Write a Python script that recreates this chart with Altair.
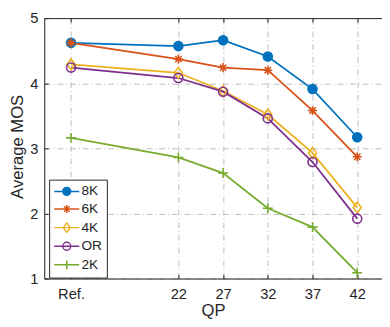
import altair as alt
import pandas as pd

# ---- data ----
qp_values = [10, 22, 27, 32, 37, 42]
qp_labels = ["Ref.", "22", "27", "32", "37", "42"]
series_names = ["8K", "6K", "4K", "OR", "2K"]
mos_8k = [4.62, 4.57, 4.66, 4.41, 3.91, 3.17]
mos_6k = [4.62, 4.37, 4.24, 4.20, 3.58, 2.87]
mos_4k = [4.29, 4.16, 3.88, 3.52, 2.93, 2.09]
mos_or = [4.24, 4.08, 3.87, 3.46, 2.79, 1.92]
mos_2k = [3.16, 2.86, 2.62, 2.08, 1.79, 1.09]
y_ticks = [1, 2, 3, 4, 5]

colors = ["#0072BD", "#D95319", "#EDB120", "#7E2F8E", "#77AC30"]
fills = ["#0072BD", "transparent", "transparent", "transparent", "transparent"]

circle = "M1,0A1,1,0,1,1,-1,0A1,1,0,1,1,1,0Z"
asterisk = "M-1,0L1,0M0,-1L0,1M-0.7,-0.7L0.7,0.7M-0.7,0.7L0.7,-0.7"
diamond = "M0,-1.2L0.9,0L0,1.2L-0.9,0Z"
plus = "M-1.1,0L1.1,0M0,-1.1L0,1.1"
marker_paths = [circle, asterisk, diamond, circle, plus]
legend_paths = ["M-3.2,0L3.2,0" + p for p in marker_paths]

all_series = [mos_8k, mos_6k, mos_4k, mos_or, mos_2k]
rows = []
for name, vals in zip(series_names, all_series):
    for q, v in zip(qp_values, vals):
        rows.append({"series": name, "qp": q, "mos": v})
df = pd.DataFrame(rows)

label_expr = "datum.label"
for q, lab in zip(qp_values, qp_labels):
    label_expr = f"datum.value == {q} ? '{lab}' : ({label_expr})"

FONT = "Liberation Sans"
TXT = "#262626"
W, H = 345, 266

x_scale = alt.Scale(domain=[7, 44.77], nice=False, zero=False)
y_scale = alt.Scale(domain=[1, 5], nice=False, zero=False)

base = alt.Chart(df)

grid_kw = dict(grid=True, gridColor="#bdbdbd", gridDash=[6, 3, 1, 3], gridWidth=1)

lines = base.mark_line(strokeWidth=1.8).encode(
    x=alt.X("qp:Q", scale=x_scale, axis=alt.Axis(
        values=qp_values, labelExpr=label_expr, title="QP", ticks=False, tickSize=0,
        domain=True, domainColor=TXT, domainWidth=1,
        labelFont=FONT, labelFontSize=15, labelColor=TXT, labelPadding=20.5,
        labelBaseline="alphabetic", labelFlush=False,
        titleFont=FONT, titleFontSize=17, titleColor=TXT, titleFontWeight="normal",
        titleBaseline="alphabetic", titleY=37.5, **grid_kw)),
    y=alt.Y("mos:Q", scale=y_scale, axis=alt.Axis(
        values=y_ticks, title="Average MOS", ticks=False, tickSize=0,
        domain=True, domainColor=TXT, domainWidth=1,
        labelFont=FONT, labelFontSize=15, labelColor=TXT, labelPadding=6.5,
        labelFlush=False,
        titleFont=FONT, titleFontSize=17, titleColor=TXT, titleFontWeight="normal",
        titleBaseline="alphabetic", titleAlign="center", titleX=-22, titleY=131,
        titleAngle=270, **grid_kw)),
    color=alt.Color("series:N", scale=alt.Scale(domain=series_names, range=colors), legend=None),
)

points = base.mark_point(filled=False, strokeWidth=1.6, size=85, opacity=1).encode(
    x=alt.X("qp:Q", scale=x_scale, axis=None),
    y=alt.Y("mos:Q", scale=y_scale, axis=None),
    color=alt.Color("series:N", scale=alt.Scale(domain=series_names, range=colors), legend=None),
    fill=alt.Fill("series:N", scale=alt.Scale(domain=series_names, range=fills), legend=None),
    shape=alt.Shape("series:N", scale=alt.Scale(domain=series_names, range=marker_paths), legend=None),
)

tick_kw = dict(labels=False, ticks=True, tickSize=4, tickColor=TXT, tickWidth=1,
               grid=False, title=None)

frame_a = base.transform_filter("false").mark_point().encode(
    x=alt.X("qp:Q", scale=x_scale, axis=alt.Axis(
        orient="bottom", offset=-H, values=qp_values, domain=True, domainColor=TXT,
        domainWidth=1, **tick_kw)),
    y=alt.Y("mos:Q", scale=y_scale, axis=alt.Axis(
        orient="right", offset=-W, values=y_ticks, domain=False, **tick_kw)),
)
frame_b = base.transform_filter("false").mark_point().encode(
    x=alt.X("qp:Q", scale=x_scale, axis=alt.Axis(
        orient="top", offset=-H, values=qp_values, domain=False, **tick_kw)),
    y=alt.Y("mos:Q", scale=y_scale, axis=None),
)

leg = alt.Legend(
    title=None, orient="none", legendX=5, legendY=165, padding=5,
    strokeColor=TXT, fillColor="white", cornerRadius=0,
    symbolSize=64, symbolOffset=6, symbolStrokeWidth=1.5, symbolOpacity=1,
    labelOffset=8, labelFont=FONT, labelFontSize=14, labelColor=TXT,
    rowPadding=4,
)
legend_layer = base.transform_filter("false").mark_point(filled=False, strokeWidth=1.5, opacity=1).encode(
    x=alt.X("qp:Q", scale=x_scale, axis=None),
    y=alt.Y("mos:Q", scale=y_scale, axis=None),
    color=alt.Color("series:N", scale=alt.Scale(domain=series_names, range=colors), legend=leg),
    fill=alt.Fill("series:N", scale=alt.Scale(domain=series_names, range=fills), legend=leg),
    shape=alt.Shape("series:N", scale=alt.Scale(domain=series_names, range=legend_paths), legend=leg),
)

chart = alt.layer(lines, frame_a, frame_b, points, legend_layer).resolve_scale(
    color="independent", fill="independent", shape="independent"
).resolve_axis(x="independent", y="independent").properties(
    width=W, height=H, autosize=alt.AutoSizeParams(type="none"),
    padding={"left": 37, "top": 7, "right": 0, "bottom": 38},
).configure_view(stroke=None).configure(background="white")

chart.save("out.html", embed_options={"renderer": "svg", "actions": False})
